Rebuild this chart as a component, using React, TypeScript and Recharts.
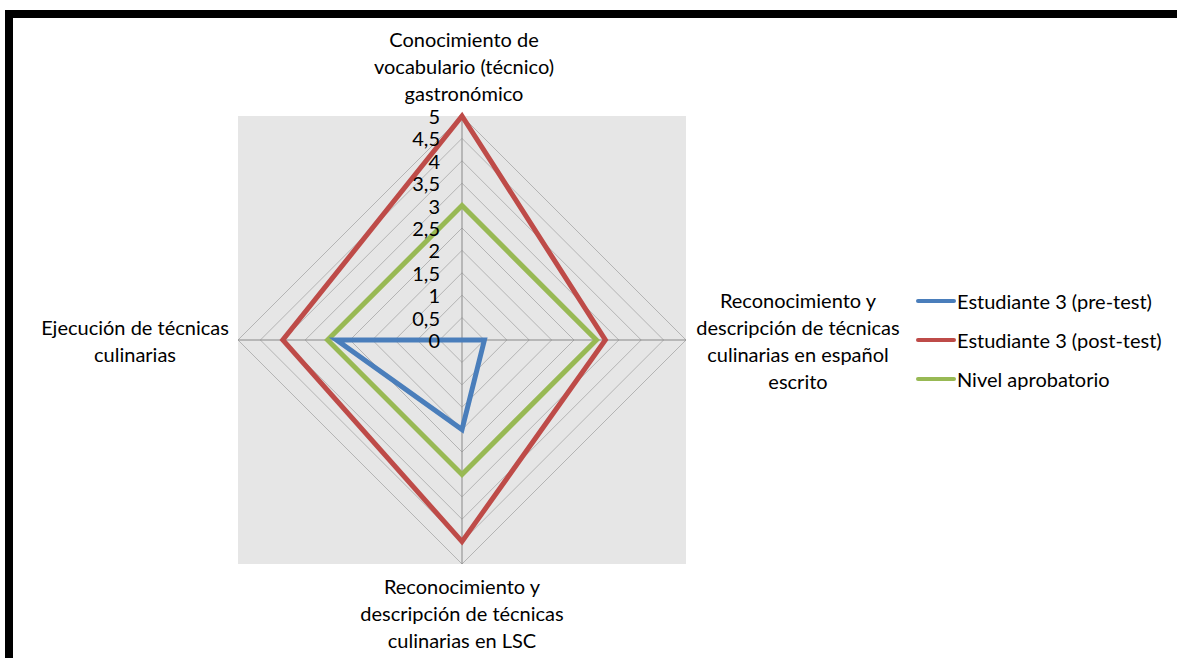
import React from "react";
import {
  RadarChart,
  Radar,
  PolarGrid,
  PolarAngleAxis,
  PolarRadiusAxis,
  Legend,
} from "recharts";

const categories = [
  "Conocimiento de vocabulario (técnico) gastronómico",
  "Reconocimiento y descripción de técnicas culinarias en español escrito",
  "Reconocimiento y descripción de técnicas culinarias en LSC",
  "Ejecución de técnicas culinarias",
];

// how each category label wraps in the picture
const labelLines: Record<string, string[]> = {
  [categories[0]]: ["Conocimiento de", "vocabulario (técnico)", "gastronómico"],
  [categories[1]]: [
    "Reconocimiento y",
    "descripción de técnicas",
    "culinarias en español",
    "escrito",
  ],
  [categories[2]]: ["Reconocimiento y", "descripción de técnicas", "culinarias en LSC"],
  [categories[3]]: ["Ejecución de técnicas", "culinarias"],
};

const preTest = [0, 0.5, 2, 2.8];
const postTest = [5, 3.2, 4.5, 4];
const passLevel = [3, 3, 3, 3];

const radiusTicks = [0, 0.5, 1, 1.5, 2, 2.5, 3, 3.5, 4, 4.5, 5];

const seriesNames = [
  "Estudiante 3 (pre-test)",
  "Estudiante 3 (post-test)",
  "Nivel aprobatorio",
];
const seriesColors = ["#4a7ebb", "#be4b48", "#98b954"];

const data = categories.map((c, i) => ({
  subject: c,
  pre: preTest[i],
  post: postTest[i],
  pass: passLevel[i],
}));

const W = 1177;
const H = 658;
const CX = 462;
const CY = 340;
const R = 224;
const FONT = "Lato, 'Open Sans', sans-serif";
const FS = 20;
const LINE_H = 27;

function AngleTick(props: any) {
  const { payload } = props;
  const lines = labelLines[payload.value] || [payload.value];
  const ang = Math.round(payload.coordinate);
  let x = CX;
  let firstY = CY;
  if (ang === 90) {
    x = CX + 2;
    firstY = CY - R - 23 - (lines.length - 1) * LINE_H;
  } else if (ang === 0) {
    x = CX + R + 112;
    firstY = CY - ((lines.length - 1) * LINE_H) / 2;
  } else if (ang === -90 || ang === 270) {
    x = CX;
    firstY = CY + R + 22;
  } else {
    x = CX - R - 103;
    firstY = CY - ((lines.length - 1) * LINE_H) / 2;
  }
  return (
    <text
      x={x}
      y={firstY}
      textAnchor="middle"
      fontFamily={FONT}
      fontSize={FS}
      fill="#000"
    >
      {lines.map((l, i) => (
        <tspan key={i} x={x} y={firstY + i * LINE_H} dominantBaseline="central">
          {l}
        </tspan>
      ))}
    </text>
  );
}

function RadiusTick(props: any) {
  const { x, y, payload } = props;
  return (
    <text
      x={x - 22}
      y={y}
      textAnchor="end"
      dominantBaseline="central"
      fontFamily={FONT}
      fontSize={FS}
      fill="#000"
    >
      {String(payload.value).replace(".", ",")}
    </text>
  );
}

function LegendBox() {
  return (
    <div style={{ fontFamily: FONT, fontSize: FS, color: "#000" }}>
      {seriesNames.map((n, i) => (
        <div
          key={n}
          style={{ display: "flex", alignItems: "center", height: 39 }}
        >
          <svg width={42} height={10}>
            <line
              x1={3}
              y1={5}
              x2={39}
              y2={5}
              stroke={seriesColors[i]}
              strokeWidth={4}
              strokeLinecap="round"
            />
          </svg>
          <span>{n}</span>
        </div>
      ))}
    </div>
  );
}

export default function App() {
  return (
    <div
      style={{
        position: "relative",
        width: W,
        height: H,
        overflow: "hidden",
        background: "#fff",
      }}
    >
      <style>{`body{margin:0}`}</style>
      <div
        style={{
          position: "absolute",
          left: 5,
          top: 10,
          width: W + 40,
          height: H + 40,
          border: "8px solid #000",
          boxSizing: "border-box",
        }}
      />
      <div
        style={{
          position: "absolute",
          left: CX - R,
          top: CY - R,
          width: 2 * R,
          height: 2 * R,
          background: "#e6e6e6",
        }}
      />
      <div style={{ position: "absolute", left: 0, top: 0 }}>
        <RadarChart
          width={W}
          height={H}
          data={data}
          cx={CX}
          cy={CY}
          outerRadius={R}
          startAngle={90}
          endAngle={-270}
        >
          <PolarGrid
            gridType="polygon"
            stroke="#b4b4b4"
            radialLines={false}
            polarRadius={radiusTicks.map((t) => (t / 5) * R)}
          />
          <PolarGrid gridType="polygon" stroke="#888888" polarRadius={[0]} />
          <PolarAngleAxis
            dataKey="subject"
            tick={<AngleTick />}
            axisLine={false}
            tickLine={false}
          />
          <PolarRadiusAxis
            angle={90}
            domain={[0, 5]}
            ticks={radiusTicks as any}
            tickCount={11}
            axisLine={false}
            tickLine={false}
            tick={<RadiusTick />}
          />
          <Radar
            name={seriesNames[2]}
            dataKey="pass"
            stroke={seriesColors[2]}
            strokeWidth={5}
            fill="none"
            fillOpacity={0}
            dot={false}
            isAnimationActive={false}
          />
          <Radar
            name={seriesNames[0]}
            dataKey="pre"
            stroke={seriesColors[0]}
            strokeWidth={5}
            fill="none"
            fillOpacity={0}
            dot={false}
            isAnimationActive={false}
          />
          <Radar
            name={seriesNames[1]}
            dataKey="post"
            stroke={seriesColors[1]}
            strokeWidth={5}
            fill="none"
            fillOpacity={0}
            dot={false}
            isAnimationActive={false}
          />
          <Legend
            content={<LegendBox />}
            layout="vertical"
            wrapperStyle={{ position: "absolute", left: 915, top: 281, width: 262 }}
          />
        </RadarChart>
      </div>
    </div>
  );
}
